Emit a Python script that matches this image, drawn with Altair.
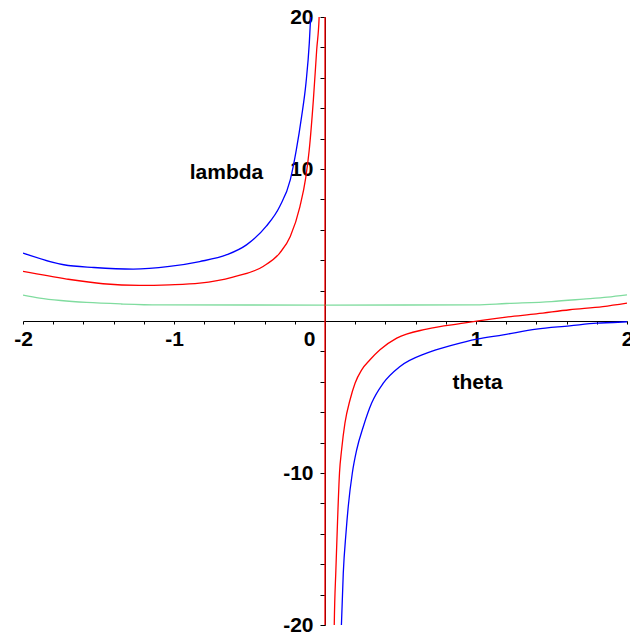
import altair as alt
import pandas as pd

# lambda(theta) samples for the three curves
blue_left_theta = [-2.00, -1.73, -1.53, -1.27, -1.03, -0.83, -0.65, -0.52, -0.39, -0.30,
                   -0.23, -0.19, -0.155, -0.126, -0.104, -0.094]
blue_left_lambda = [4.47, 3.70, 3.52, 3.41, 3.59, 3.91, 4.36, 5.01, 6.22, 7.53,
                    9.29, 11.26, 13.45, 15.65, 18.28, 20.2]
blue_right_theta = [0.108, 0.121, 0.139, 0.154, 0.181, 0.21, 0.254, 0.309, 0.386, 0.497,
                    0.673, 0.85, 1.005, 1.18, 1.40, 1.62, 1.80, 1.91, 2.00]
blue_right_lambda = [-20.2, -16.6, -13.95, -12.2, -10.0, -8.47, -6.94, -5.40, -4.09, -2.99,
                     -2.11, -1.57, -1.19, -0.91, -0.53, -0.32, -0.14, -0.10, -0.05]

red_theta = [-2.00, -1.71, -1.47, -1.23, -1.03, -0.83, -0.61, -0.41, -0.30, -0.23,
             -0.166, -0.128, -0.105, -0.077, -0.055, -0.038, -0.0005, 0.0005,
             0.061, 0.072, 0.083, 0.096, 0.11, 0.132, 0.166, 0.199, 0.243, 0.298,
             0.364, 0.475, 0.673, 0.916, 1.026, 1.20, 1.40, 1.62, 1.84, 2.00]
red_lambda = [3.26, 2.76, 2.45, 2.34, 2.38, 2.49, 2.89, 3.59, 4.47, 5.56,
              7.53, 9.4, 11.2, 14.55, 17.84, 20.2, 200.0, -200.0,
              -20.2, -16.4, -13.2, -10.0, -8.47, -6.72, -5.18, -4.09, -3.21, -2.55,
              -1.89, -1.13, -0.53, -0.14, 0.03, 0.26, 0.47, 0.74, 0.95, 1.18]

green_theta = [-2.00, -1.89, -1.75, -1.58, -1.35, -1.10, 0.00, 1.00, 1.20, 1.50, 1.71, 1.87, 2.00]
green_lambda = [1.70, 1.51, 1.35, 1.22, 1.12, 1.06, 1.05, 1.06, 1.15, 1.28, 1.44, 1.57, 1.72]

x_ticks = [-2.0, -1.8, -1.6, -1.4, -1.2, -1.0, -0.8, -0.6, -0.4, -0.2, 0.0,
           0.2, 0.4, 0.6, 0.8, 1.0, 1.2, 1.4, 1.6, 1.8, 2.0]
y_ticks = [-20, -18, -16, -14, -12, -10, -8, -6, -4, -2, 0,
           2, 4, 6, 8, 10, 12, 14, 16, 18, 20]

curve_names = ["red", "green", "blue"]
curve_colors = ["#FF0000", "#80DC9F", "#0000FF"]

rows = []


def add(curve, seg, thetas, lams):
    for i, (t, l) in enumerate(zip(thetas, lams)):
        rows.append({"theta": t, "lam": l, "curve": curve, "seg": seg, "idx": i})


add("green", "g", green_theta, green_lambda)
add("red", "r", red_theta, red_lambda)
add("blue", "b1", blue_left_theta, blue_left_lambda)
add("blue", "b2", blue_right_theta, blue_right_lambda)
df = pd.DataFrame(rows)

W, H = 604, 608
FONT = "Liberation Sans"

x_axis = alt.Axis(
    values=x_ticks,
    orient="bottom",
    offset=-H / 2,
    grid=False,
    domainColor="black",
    domainWidth=1,
    tickColor="black",
    tickWidth=1,
    tickSize=3,
    labelExpr="abs(datum.value - round(datum.value)) < 0.001 ? '' + round(datum.value) : ''",
    labelFont=FONT,
    labelFontSize=21,
    labelFontWeight="bold",
    labelColor="black",
    labelPadding=4,
    labelFlush=False,
    labelOverlap=False,
    labelBound=False,
    labelOffset={"condition": {"test": "datum.value == 0", "value": -16}, "value": 0},
    title="theta",
    titleFont=FONT,
    titleFontSize=21,
    titleFontWeight="bold",
    titleColor="black",
    titleAngle=0,
    titleAlign="center",
    titleBaseline="alphabetic",
    titleX=454,
    titleY=67,
)

y_axis = alt.Axis(
    values=y_ticks,
    orient="left",
    offset=-W / 2,
    grid=False,
    domainColor="black",
    domainWidth=1,
    tickColor="black",
    tickWidth=1,
    tickSize=5,
    labelExpr="datum.value != 0 && datum.value % 10 == 0 ? '' + datum.value : ''",
    labelFont=FONT,
    labelFontSize=21,
    labelFontWeight="bold",
    labelColor="black",
    labelPadding=7,
    labelFlush=False,
    labelOverlap=False,
    labelBound=False,
    title="lambda",
    titleFont=FONT,
    titleFontSize=21,
    titleFontWeight="bold",
    titleColor="black",
    titleAngle=0,
    titleAlign="center",
    titleBaseline="alphabetic",
    titleX=-99,
    titleY=161,
)

chart = (
    alt.Chart(df)
    .mark_line(clip=True, strokeWidth=1.3, interpolate="monotone")
    .encode(
        x=alt.X("theta:Q", scale=alt.Scale(domain=[-2, 2], nice=False, zero=False), axis=x_axis),
        y=alt.Y("lam:Q", scale=alt.Scale(domain=[-20, 20], nice=False, zero=False), axis=y_axis),
        color=alt.Color("curve:N", scale=alt.Scale(domain=curve_names, range=curve_colors), legend=None),
        detail="seg:N",
        order="idx:Q",
    )
    .properties(
        width=W,
        height=H,
        autosize=alt.AutoSizeParams(type="none"),
        padding={"left": 23, "top": 17, "right": 3, "bottom": 10},
        background="white",
    )
    .configure_view(stroke=None)
)

chart.save("out.html", embed_options={"renderer": "svg", "actions": False})
